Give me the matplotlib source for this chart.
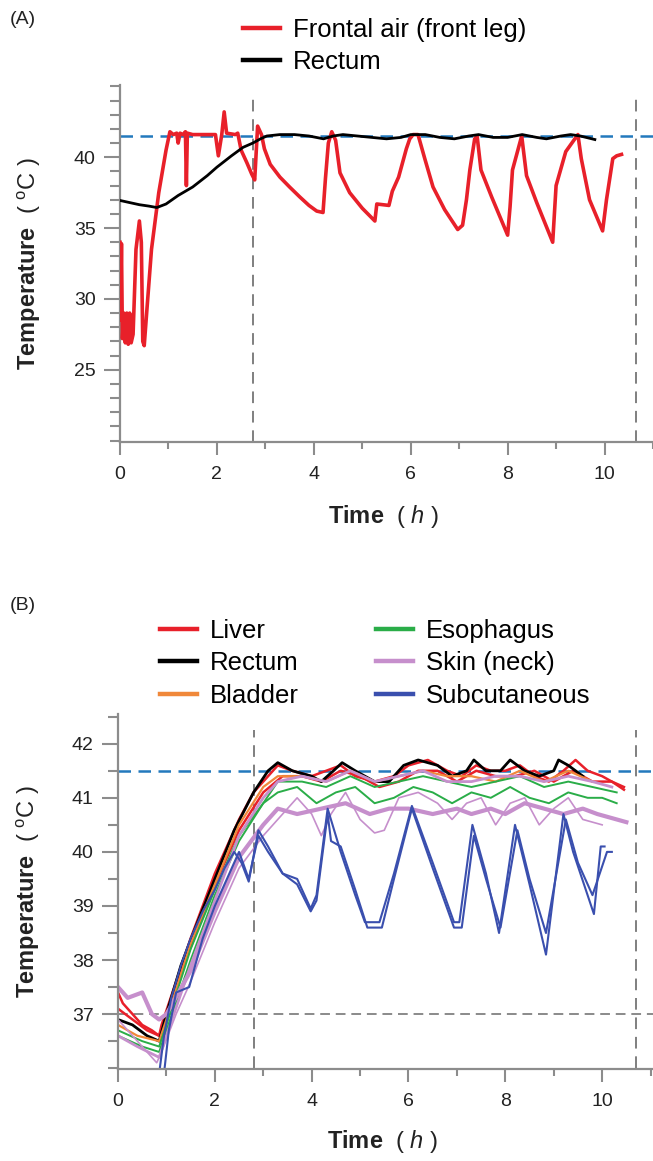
import matplotlib
matplotlib.use('Agg')
import matplotlib.pyplot as plt
from matplotlib.ticker import MultipleLocator

plt.rcParams['font.family'] = ['Liberation Sans', 'DejaVu Sans']
plt.rcParams['mathtext.fontset'] = 'custom'
plt.rcParams['mathtext.rm'] = 'Liberation Sans'
plt.rcParams['mathtext.it'] = 'Liberation Sans:italic'
plt.rcParams['mathtext.bf'] = 'Liberation Sans:bold'

# ---------------- panel A data ----------------
frontal_t = [0.00, 0.01, 0.03, 0.05, 0.08, 0.11, 0.14, 0.17, 0.20, 0.23, 0.27, 0.33,
             0.40, 0.44, 0.47, 0.50, 0.55, 0.65, 0.80, 0.95, 1.03, 1.10, 1.17, 1.20,
             1.24, 1.30, 1.35, 1.37, 1.39, 1.50, 1.80, 1.97, 2.03, 2.10, 2.15, 2.20,
             2.38, 2.43, 2.50, 2.62, 2.72, 2.78, 2.84, 2.92, 2.98, 3.10, 3.30, 3.50,
             3.71, 3.90, 4.06, 4.19, 4.24, 4.30, 4.37, 4.45, 4.54, 4.74, 5.00, 5.26,
             5.30, 5.55, 5.62, 5.75, 5.91, 5.98, 6.05, 6.15, 6.29, 6.46, 6.70, 6.97,
             7.07, 7.15, 7.22, 7.32, 7.37, 7.45, 7.67, 8.00, 8.05, 8.10, 8.29, 8.39,
             8.60, 8.93, 9.00, 9.20, 9.45, 9.52, 9.69, 9.96, 10.04, 10.17, 10.25, 10.35]
frontal_T = [34.0, 28.5, 33.9, 27.2, 29.0, 26.9, 29.0, 26.8, 29.0, 26.9, 27.5, 33.5,
             35.5, 34.0, 27.0, 26.7, 29.0, 33.5, 37.5, 40.5, 41.8, 41.6, 41.7, 41.0,
             41.7, 41.6, 41.8, 38.0, 41.7, 41.6, 41.6, 41.6, 40.1, 41.6, 43.2, 41.7,
             41.6, 41.7, 40.5, 39.6, 38.8, 38.4, 42.2, 41.6, 40.6, 39.5, 38.6, 37.9,
             37.2, 36.6, 36.2, 36.1, 38.5, 41.0, 41.8, 41.2, 38.9, 37.5, 36.4, 35.5,
             36.7, 36.6, 37.6, 38.6, 40.6, 41.3, 41.6, 41.6, 39.9, 37.9, 36.3, 34.9,
             35.2, 37.0, 39.1, 41.3, 41.5, 39.1, 37.2, 34.5, 36.5, 39.1, 41.5, 38.7,
             36.8, 34.0, 38.0, 40.4, 41.6, 39.9, 37.0, 34.8, 37.0, 39.9, 40.1, 40.2]

rectumA_t = [0.0, 0.2, 0.4, 0.6, 0.76, 0.95, 1.2, 1.5, 1.8, 2.0, 2.3, 2.54, 2.74, 2.9,
             3.03, 3.3, 3.6, 3.9, 4.2, 4.4, 4.6, 4.9, 5.2, 5.5, 5.8, 6.0, 6.3, 6.6,
             6.9, 7.2, 7.4, 7.7, 8.0, 8.3, 8.6, 8.8, 9.1, 9.3, 9.5, 9.8]
rectumA_T = [36.95, 36.8, 36.65, 36.55, 36.45, 36.7, 37.3, 37.9, 38.7, 39.3, 40.1, 40.7,
             41.0, 41.3, 41.5, 41.6, 41.6, 41.5, 41.3, 41.5, 41.6, 41.5, 41.4, 41.3,
             41.4, 41.6, 41.6, 41.4, 41.3, 41.5, 41.6, 41.4, 41.4, 41.6, 41.4, 41.3,
             41.5, 41.6, 41.5, 41.25]

# ---------------- panel B data ----------------
liver1_t = [0, 0.1, 0.3, 0.5, 0.7, 0.85, 0.9, 1.2, 1.5, 2.0, 2.5, 2.8, 3.1, 3.3, 3.6,
            4.0, 4.3, 4.6, 4.9, 5.3, 5.7, 6.0, 6.4, 6.8, 7.1, 7.4, 7.7, 8.0, 8.3, 8.6,
            8.9, 9.2, 9.45, 9.7, 10.0, 10.2, 10.45]
liver1_T = [37.4, 37.2, 37.0, 36.8, 36.7, 36.6, 36.8, 37.6, 38.4, 39.6, 40.6, 41.1, 41.4,
            41.6, 41.5, 41.4, 41.5, 41.6, 41.4, 41.3, 41.4, 41.6, 41.7, 41.5, 41.4, 41.6,
            41.5, 41.5, 41.6, 41.4, 41.3, 41.5, 41.7, 41.5, 41.4, 41.3, 41.2]
liver2_t = [0, 0.3, 0.6, 0.85, 1.0, 1.4, 2.0, 2.5, 3.0, 3.4, 3.8, 4.2, 4.6, 5.0, 5.4,
            5.8, 6.2, 6.6, 7.0, 7.4, 7.8, 8.2, 8.6, 9.0, 9.4, 9.8, 10.2, 10.45]
liver2_T = [37.1, 36.9, 36.7, 36.6, 37.0, 38.0, 39.4, 40.4, 41.1, 41.4, 41.4, 41.3, 41.5,
            41.4, 41.2, 41.3, 41.5, 41.5, 41.3, 41.5, 41.4, 41.4, 41.5, 41.3, 41.5, 41.3,
            41.3, 41.15]
rectumB_t = [0, 0.3, 0.6, 0.85, 1.0, 1.3, 1.6, 2.0, 2.4, 2.8, 3.1, 3.3, 3.6, 4.0, 4.2,
             4.45, 4.63, 4.9, 5.3, 5.6, 5.9, 6.2, 6.6, 6.9, 7.2, 7.35, 7.6, 7.9, 8.1, 8.4,
             8.7, 9.0, 9.1, 9.3, 9.6]
rectumB_T = [36.9, 36.8, 36.6, 36.5, 37.0, 37.9, 38.6, 39.5, 40.4, 41.1, 41.5, 41.65, 41.5,
             41.4, 41.3, 41.5, 41.65, 41.5, 41.3, 41.3, 41.6, 41.7, 41.6, 41.4, 41.5, 41.7,
             41.5, 41.5, 41.7, 41.5, 41.4, 41.5, 41.7, 41.6, 41.4]
bladder_t = [0, 0.4, 0.85, 1.0, 1.5, 2.0, 2.5, 3.0, 3.3, 3.8, 4.3, 4.8, 5.3, 5.8, 6.3,
             6.8, 7.3, 7.8, 8.3, 8.8, 9.3, 9.8]
bladder_T = [36.8, 36.6, 36.5, 36.9, 38.3, 39.4, 40.5, 41.2, 41.4, 41.4, 41.3, 41.5, 41.3,
             41.4, 41.5, 41.4, 41.4, 41.3, 41.5, 41.3, 41.5, 41.3]
esoph1_t = [0, 0.5, 0.85, 1.0, 1.5, 2.0, 2.5, 3.0, 3.3, 3.7, 4.1, 4.5, 4.9, 5.3, 5.7,
            6.1, 6.5, 6.9, 7.3, 7.7, 8.1, 8.5, 8.9, 9.3, 9.7, 10.0, 10.3]
esoph1_T = [36.7, 36.5, 36.4, 36.8, 38.2, 39.3, 40.3, 40.9, 41.1, 41.2, 40.9, 41.1, 41.2,
            40.9, 41.0, 41.2, 41.1, 40.9, 41.1, 41.0, 41.2, 41.0, 40.9, 41.1, 41.0, 41.0,
            40.9]
esoph2_t = [0, 0.5, 0.85, 1.0, 1.5, 2.0, 2.5, 3.0, 3.3, 3.8, 4.3, 4.8, 5.3, 5.8, 6.3,
            6.8, 7.3, 7.8, 8.3, 8.8, 9.3, 9.8, 10.3]
esoph2_T = [36.6, 36.4, 36.3, 36.7, 38.0, 39.2, 40.2, 40.9, 41.3, 41.3, 41.2, 41.4, 41.2,
            41.3, 41.4, 41.3, 41.2, 41.3, 41.4, 41.2, 41.3, 41.2, 41.1]
skin1_t = [0, 0.4, 0.85, 1.0, 1.5, 2.0, 2.5, 3.0, 3.3, 3.8, 4.3, 4.8, 5.3, 5.8, 6.3,
           6.8, 7.3, 7.8, 8.3, 8.8, 9.3, 9.8, 10.2]
skin1_T = [36.6, 36.4, 36.2, 36.6, 37.9, 39.1, 40.3, 41.0, 41.3, 41.4, 41.3, 41.5, 41.3,
           41.4, 41.5, 41.3, 41.3, 41.4, 41.4, 41.3, 41.4, 41.3, 41.2]
skin2_t = [0, 0.2, 0.5, 0.7, 0.85, 1.0, 1.5, 2.0, 2.5, 3.0, 3.3, 3.7, 4.2, 4.7, 5.2, 5.6,
           6.0, 6.5, 7.0, 7.3, 7.7, 8.0, 8.4, 8.8, 9.2, 9.6, 9.9, 10.3, 10.5]
skin2_T = [37.5, 37.3, 37.4, 37.0, 36.9, 37.0, 37.8, 38.9, 39.9, 40.5, 40.8, 40.7, 40.8,
           40.9, 40.7, 40.8, 40.8, 40.7, 40.8, 40.7, 40.8, 40.7, 40.9, 40.8, 40.7, 40.8,
           40.7, 40.6, 40.55]
skin3_t = [0, 0.5, 0.8, 0.9, 1.2, 1.5, 2.0, 2.5, 3.0, 3.3, 3.7, 4.0, 4.2, 4.4, 4.7, 5.0,
           5.3, 5.5, 5.8, 6.2, 6.6, 6.9, 7.2, 7.5, 7.8, 8.1, 8.4, 8.7, 9.0, 9.3, 9.6, 10.0]
skin3_T = [36.9, 36.4, 36.1, 36.3, 37.0, 37.6, 38.7, 39.7, 40.3, 40.6, 41.0, 40.7, 40.3,
           40.7, 41.1, 40.6, 40.35, 40.4, 41.0, 41.1, 40.9, 40.6, 40.9, 41.0, 40.5, 40.9,
           41.0, 40.5, 40.8, 41.0, 40.6, 40.5]
subcut1_t = [0.85, 0.95, 1.1, 1.3, 1.5, 1.75, 2.0, 2.2, 2.4, 2.55, 2.7, 2.9, 3.1, 3.4, 3.7,
             3.98, 4.1, 4.33, 4.6, 4.9, 5.1, 5.4, 5.7, 6.07, 6.5, 6.94, 7.05, 7.32, 7.6,
             7.87, 8.2, 8.5, 8.84, 9.2, 9.4, 9.83, 9.97, 10.05]
subcut1_T = [35.9, 36.6, 37.3, 37.9, 38.4, 38.9, 39.3, 39.7, 40.0, 39.8, 39.45, 40.4, 40.1,
             39.6, 39.5, 38.95, 39.2, 40.8, 40.0, 39.2, 38.7, 38.7, 39.6, 40.85, 39.8, 38.7,
             38.7, 40.5, 39.6, 38.5, 40.5, 39.4, 38.1, 40.7, 40.0, 38.85, 40.1, 40.1]
subcut2_t = [0.95, 1.05, 1.2, 1.47, 1.75, 2.0, 2.3, 2.5, 2.7, 2.9, 3.1, 3.4, 3.7, 3.98,
             4.1, 4.33, 4.4, 4.6, 4.9, 5.15, 5.45, 5.7, 6.07, 6.5, 6.94, 7.1, 7.35, 7.6,
             7.9, 8.25, 8.5, 8.84, 9.25, 9.5, 9.8, 10.1, 10.2]
subcut2_T = [35.9, 36.7, 37.4, 37.5, 38.4, 39.0, 39.6, 40.0, 39.5, 40.3, 40.0, 39.6, 39.4,
             38.9, 39.1, 40.7, 40.2, 40.1, 39.3, 38.6, 38.6, 39.5, 40.8, 39.7, 38.6, 38.6,
             40.3, 39.5, 38.6, 40.4, 39.5, 38.5, 40.6, 39.8, 39.2, 40.0, 40.0]

TEXT = '#222222'
AXC = '#8c8c8c'
RED = '#e8202a'
ORANGE = '#f0883a'
GREEN = '#2aad48'
PINK = '#c68fcc'
BLUE = '#3a4fae'
DASHBLUE = '#2379bd'

fig = plt.figure(figsize=(6.53, 11.61), dpi=100)
W, H = 653, 1161
axA = fig.add_axes([120 / W, 1 - 442 / H, 533 / W, 357 / H])
axB = fig.add_axes([118 / W, 1 - 1069 / H, 535 / W, 355 / H])


def style_axis(ax):
    for s in ['top', 'right']:
        ax.spines[s].set_visible(False)
    for s in ['left', 'bottom']:
        ax.spines[s].set_color(AXC)
        ax.spines[s].set_linewidth(1.6)
    ax.tick_params(axis='both', which='both', direction='out', color=AXC, width=1.5,
                   labelsize=14, labelcolor=TEXT)
    ax.tick_params(axis='y', which='major', length=11.5, pad=6)
    ax.tick_params(axis='y', which='minor', length=7)
    ax.tick_params(axis='x', which='major', length=9.5, pad=8)
    ax.tick_params(axis='x', which='minor', length=5)
    ax.xaxis.set_major_locator(MultipleLocator(2))
    ax.xaxis.set_minor_locator(MultipleLocator(1))
    ax.set_xlabel(r'$\mathbf{Time}$  ( $\mathit{h}$ )', fontsize=17, color=TEXT)
    ax.set_ylabel(r'$\mathbf{Temperature}$  ( $^{\rm o}$C )', fontsize=17, color=TEXT)


# ---- panel A ----
axA.plot(frontal_t, frontal_T, color=RED, lw=2.6, solid_joinstyle='round',
         label='Frontal air (front leg)', zorder=3)
axA.plot(rectumA_t, rectumA_T, color='black', lw=2.0, label='Rectum', zorder=4)
axA.axhline(41.5, color=DASHBLUE, lw=1.8, dashes=(5, 3), zorder=2)
axA.vlines([2.74, 10.64], 19.9, 44.1, color='#7f7f7f', lw=1.4, linestyles=(0, (6, 4)))
axA.set_xlim(0, 11.0)
axA.set_ylim(19.9, 45.1)
axA.yaxis.set_major_locator(MultipleLocator(5))
axA.yaxis.set_minor_locator(MultipleLocator(1))
style_axis(axA)
axA.set_yticks([25, 30, 35, 40])
axA.xaxis.set_label_coords(0.495, -0.17)
axA.yaxis.set_label_coords(-0.145, 0.5)
axA.legend(loc='upper left', bbox_to_anchor=(243 / W, 1 - 18 / H),
           bbox_transform=fig.transFigure, frameon=False, fontsize=18.5,
           handlelength=1.45, handletextpad=0.5, labelspacing=0.33, borderpad=0,
           borderaxespad=0)
for lh in axA.get_legend().get_lines():
    lh.set_linewidth(3.2)
fig.text(10 / W, 1 - 20 / H, '(A)', fontsize=14, color=TEXT, va='center', ha='left')

# ---- panel B ----
axB.plot(liver1_t, liver1_T, color=RED, lw=1.8, label='Liver')
axB.plot(liver2_t, liver2_T, color=RED, lw=1.8)
axB.plot(rectumB_t, rectumB_T, color='black', lw=2.0, label='Rectum')
axB.plot(bladder_t, bladder_T, color=ORANGE, lw=1.6, label='Bladder')
axB.plot(esoph1_t, esoph1_T, color=GREEN, lw=1.4, label='Esophagus')
axB.plot(esoph2_t, esoph2_T, color=GREEN, lw=1.4)
axB.plot(skin1_t, skin1_T, color=PINK, lw=2.0, label='Skin (neck)')
axB.plot(skin2_t, skin2_T, color=PINK, lw=3.0)
axB.plot(skin3_t, skin3_T, color=PINK, lw=1.2)
axB.plot(subcut1_t, subcut1_T, color=BLUE, lw=1.5, label='Subcutaneous')
axB.plot(subcut2_t, subcut2_T, color=BLUE, lw=1.5)
axB.axhline(41.5, color=DASHBLUE, lw=1.8, dashes=(5, 3), zorder=1)
axB.axhline(37.0, color='#8a8a8a', lw=1.4, dashes=(5, 3), zorder=1)
axB.vlines([2.8, 10.7], 36.0, 42.25, color='#7f7f7f', lw=1.4, linestyles=(0, (6, 4)),
           zorder=1)
axB.set_xlim(0, 11.05)
axB.set_ylim(35.985, 42.55)
axB.yaxis.set_major_locator(MultipleLocator(1))
axB.yaxis.set_minor_locator(MultipleLocator(0.5))
style_axis(axB)
axB.set_yticks([37, 38, 39, 40, 41, 42])
axB.xaxis.set_label_coords(0.495, -0.165)
axB.yaxis.set_label_coords(-0.142, 0.5)
axB.legend(loc='upper left', bbox_to_anchor=(160 / W, 1 - 619 / H),
           bbox_transform=fig.transFigure, frameon=False, fontsize=18.5, ncol=2,
           handlelength=1.45, handletextpad=0.5, labelspacing=0.33, borderpad=0,
           borderaxespad=0, columnspacing=3.0)
for lh in axB.get_legend().get_lines():
    lh.set_linewidth(3.2)
fig.text(10 / W, 1 - 606 / H, '(B)', fontsize=14, color=TEXT, va='center', ha='left')

fig.savefig('out.png', dpi=100)
